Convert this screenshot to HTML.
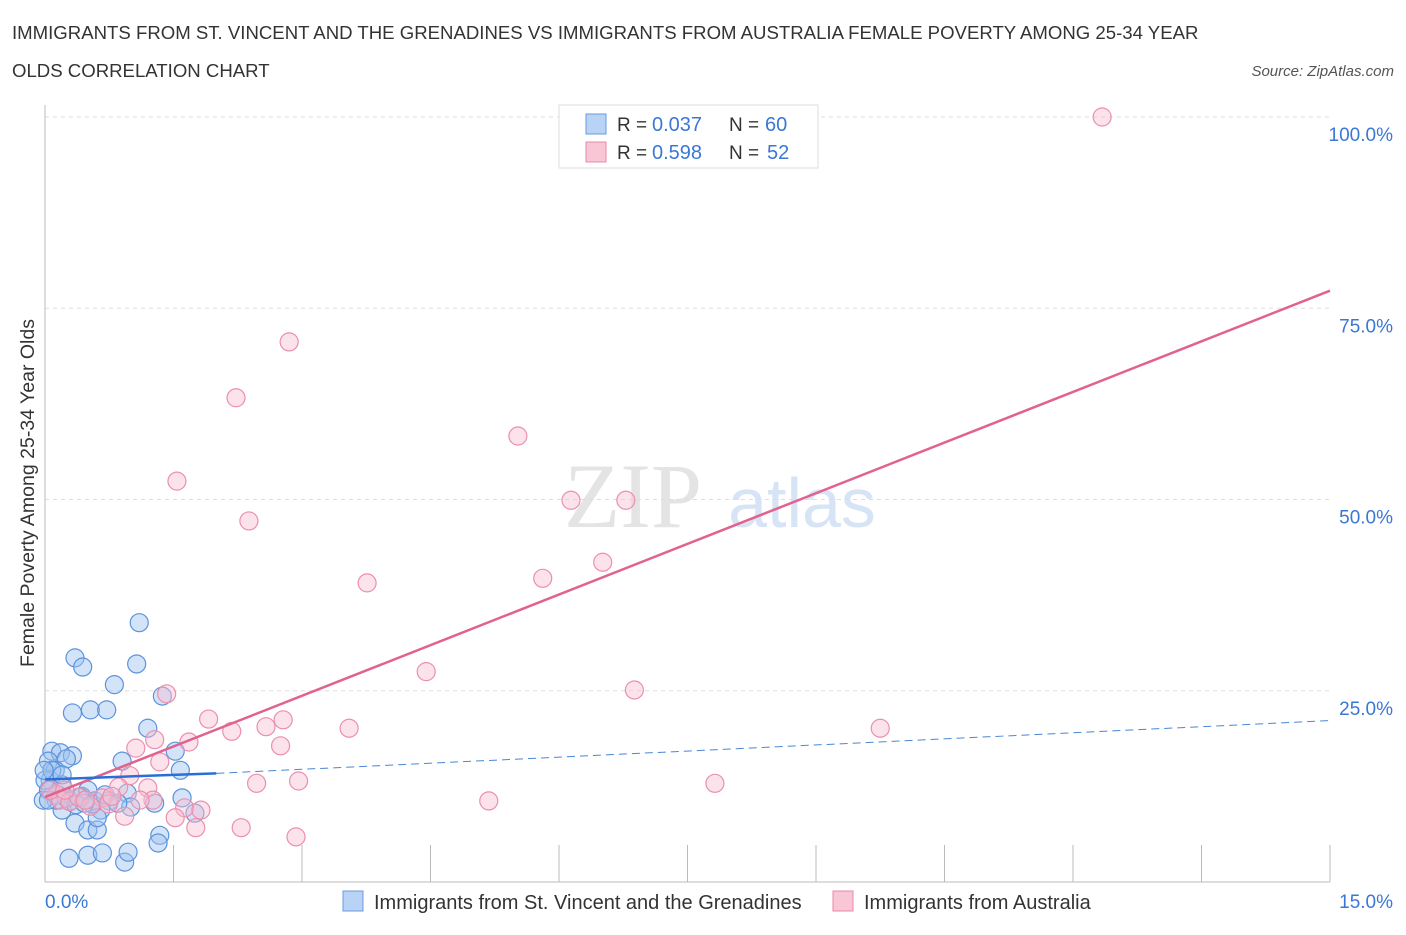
<!DOCTYPE html>
<html><head><meta charset="utf-8"><style>
body{margin:0;background:#fff;font-family:"Liberation Sans",sans-serif}
</style></head><body>
<svg width="1406" height="930" xmlns="http://www.w3.org/2000/svg">
<text x="12" y="39" font-size="18.6" fill="#333">IMMIGRANTS FROM ST. VINCENT AND THE GRENADINES VS IMMIGRANTS FROM AUSTRALIA FEMALE POVERTY AMONG 25-34 YEAR</text>
<text x="12" y="77" font-size="18.6" fill="#333">OLDS CORRELATION CHART</text>
<text x="1394" y="76" font-size="15" fill="#555" font-style="italic" text-anchor="end">Source: ZipAtlas.com</text>
<g><text x="633" y="527" font-size="92" fill="#e4e4e4" font-family="Liberation Serif,serif" text-anchor="middle">ZIP</text><text x="802" y="527" font-size="70" fill="#d6e4f5" text-anchor="middle">atlas</text></g>
<g id="grid"></g><g id="axes"></g><g id="pts"></g><g id="lines"></g>
<text transform="translate(34,493) rotate(-90)" font-size="19.5" fill="#333" text-anchor="middle">Female Poverty Among 25-34 Year Olds</text>
<g>
<rect x="559" y="105" width="259" height="63" fill="#fff" stroke="#ddd"/>
<rect x="586" y="114" width="20" height="20" fill="#b8d3f5" stroke="#6a9be0"/>
<text x="617" y="131" font-size="19" fill="#333">R =</text><text x="652" y="131" font-size="20" fill="#3a78d4">0.037</text>
<text x="729" y="131" font-size="19" fill="#333">N =</text><text x="765" y="131" font-size="20" fill="#3a78d4">60</text>
<rect x="586" y="142" width="20" height="20" fill="#f9c6d6" stroke="#e88aa8"/>
<text x="617" y="159" font-size="19" fill="#333">R =</text><text x="652" y="159" font-size="20" fill="#3a78d4">0.598</text>
<text x="729" y="159" font-size="19" fill="#333">N =</text><text x="767" y="159" font-size="20" fill="#3a78d4">52</text>
</g>
<g>
<rect x="343" y="891" width="20" height="20" fill="#b8d3f5" stroke="#6a9be0"/>
<text x="374" y="909" font-size="20" fill="#333">Immigrants from St. Vincent and the Grenadines</text>
<rect x="833" y="891" width="20" height="20" fill="#f9c6d6" stroke="#e88aa8"/>
<text x="864" y="909" font-size="20" fill="#333">Immigrants from Australia</text>
</g>
</svg>
<script>
const yTicks=[25,50,75,100];
const yTickLabels=["25.0%","50.0%","75.0%","100.0%"];
const xTickLabels=["0.0%","15.0%"];
const blueX=[1.10,0.35,0.44,1.07,0.81,1.37,0.32,0.53,0.72,1.20,0.90,1.52,1.58,0.08,0.18,0.32,0.04,0.25,0.12,0.06,0.20,0.04,0.15,0.29,0.43,0.58,0.75,0.96,1.00,1.28,1.60,1.75,0.65,0.20,0.35,0.50,0.61,0.61,1.34,1.32,0.28,0.50,0.67,0.93,0.97,0.00,0.08,-0.01,0.20,0.41,0.13,0.55,0.70,0.85,0.25,0.50,-0.02,0.04,0.36,0.46];
const blueY=[33.9,29.3,28.1,28.5,25.8,24.3,22.1,22.5,22.5,20.1,15.8,17.1,14.6,17.1,16.9,16.5,15.8,16.1,14.6,13.3,12.7,12.0,11.4,10.6,11.2,10.6,10.6,11.6,9.8,10.3,11.0,9.0,9.4,9.4,7.7,6.8,6.8,8.4,6.1,5.1,3.1,3.5,3.8,2.6,3.9,13.3,14.6,14.6,14.0,11.1,10.7,10.2,11.4,10.3,11.0,12.0,10.7,10.7,10.1,10.3];
const pinkX=[12.34,2.85,2.23,1.54,2.38,5.52,6.14,6.78,6.51,5.81,3.76,4.45,6.88,1.42,9.75,1.91,2.18,2.58,2.78,3.55,2.75,1.68,1.28,1.06,1.34,0.99,1.20,2.47,2.96,7.82,5.18,0.67,0.86,0.93,1.63,1.82,1.52,1.76,2.29,2.93,1.26,0.13,0.18,0.29,0.39,0.53,0.06,0.74,1.11,0.78,0.23,0.47];
const pinkY=[100,70.6,63.3,52.4,47.2,58.3,49.9,49.9,41.8,39.7,39.1,27.5,25.1,24.6,20.1,21.3,19.7,20.3,21.2,20.1,17.8,18.3,18.6,17.5,15.7,13.9,12.3,12.9,13.2,12.9,10.6,11.0,12.4,8.6,9.7,9.4,8.4,7.1,7.1,5.9,10.7,11.4,10.7,10.5,11.1,9.9,12.0,10.2,10.7,11.2,12.0,10.7];
const pinkTrend=[[0,11.1],[15,77.3]];
const blueTrend=[[0,13.4],[2,14.2],[15,21.1]];
const NS="http://www.w3.org/2000/svg";
const X=v=>45+v/15*1285, Y=v=>882-v*7.65;
function mk(t,a,p){const e=document.createElementNS(NS,t);for(const k in a)e.setAttribute(k,a[k]);document.getElementById(p).appendChild(e);return e;}
yTicks.forEach((t,i)=>{
 const l=mk('line',{x1:45,x2:1330,y1:Y(t),y2:Y(t),stroke:'#ddd','stroke-dasharray':'4,4'},'grid');
 
 
 const tx=mk('text',{x:1393,y:Y(t)+24,'font-size':19,fill:'#3a78d4','text-anchor':'end'},'grid');tx.textContent=yTickLabels[i];
 
 
});
const ax=mk('line',{x1:45,x2:1330,y1:882,y2:882,stroke:'#bbb'},'axes');


const ay=mk('line',{x1:45,x2:45,y1:105,y2:882,stroke:'#bbb'},'axes');


for(let i=0;i<=10;i++){const t=mk('line',{x1:X(i*1.5),x2:X(i*1.5),y1:845,y2:882,stroke:'#bbb'},'axes');
 
 }
[[0,'start',45],[1,'end',1393]].forEach(([i,a,x])=>{const t=mk('text',{x:x,y:908,'font-size':19,fill:'#3a78d4','text-anchor':a},'axes');t.textContent=xTickLabels[i];
 
 });
blueX.forEach((v,i)=>{const c=mk('circle',{cx:X(v),cy:Y(blueY[i]),r:9,fill:'rgba(160,196,240,0.45)',stroke:'#5b93dc','stroke-width':1.2},'pts');
 
 });
pinkX.forEach((v,i)=>{const c=mk('circle',{cx:X(v),cy:Y(pinkY[i]),r:9,fill:'rgba(248,190,208,0.45)',stroke:'#eb8fae','stroke-width':1.2},'pts');
 
 });
const pl=mk('line',{x1:X(pinkTrend[0][0]),y1:Y(pinkTrend[0][1]),x2:X(pinkTrend[1][0]),y2:Y(pinkTrend[1][1]),stroke:'#e2628f','stroke-width':2.5},'lines');


const bl=mk('line',{x1:X(blueTrend[0][0]),y1:Y(blueTrend[0][1]),x2:X(blueTrend[1][0]),y2:Y(blueTrend[1][1]),stroke:'#2a6fd6','stroke-width':2.5},'lines');


const bd=mk('line',{x1:X(blueTrend[1][0]),y1:Y(blueTrend[1][1]),x2:X(blueTrend[2][0]),y2:Y(blueTrend[2][1]),stroke:'#4a86d8','stroke-width':1,'stroke-dasharray':'8,5'},'lines');


</script>
</body></html>
